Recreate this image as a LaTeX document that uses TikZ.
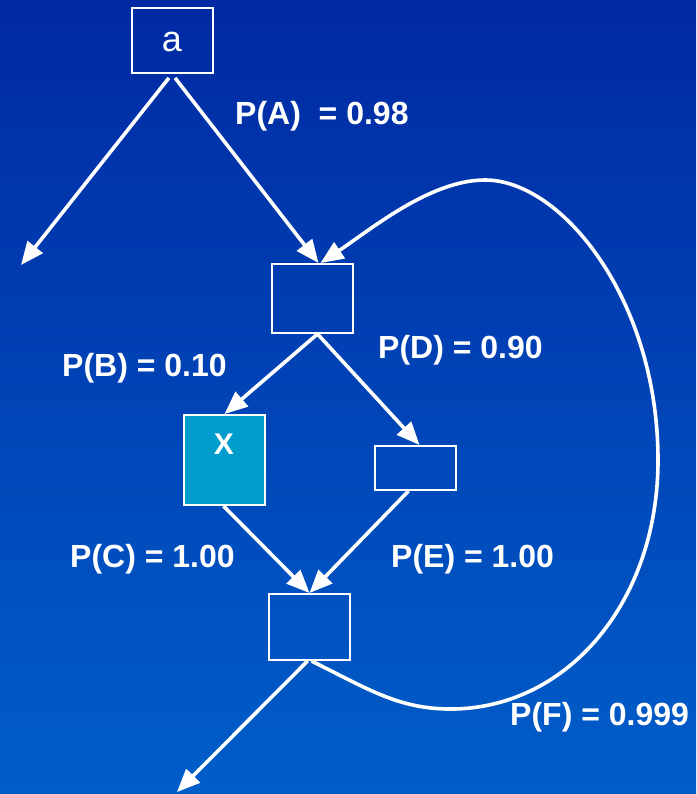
\documentclass[tikz,border=0pt]{standalone}
\usepackage{fontspec}
\setmainfont{Liberation Sans}
\usetikzlibrary{arrows.meta}
\definecolor{bgtop}{HTML}{0029A3}
\definecolor{bgbot}{HTML}{005EC9}
\definecolor{hot}{HTML}{009CCC}
\tikzset{
  box/.style={draw=white, line width=2pt, minimum width=81pt, inner sep=0pt},
  link/.style={draw=white, line width=3.6pt, -{Triangle[length=23pt,width=19pt]}},
  prob/.style={text=white, anchor=base west, inner sep=0pt,
    font=\bfseries\fontsize{32}{38}\selectfont},
}
\begin{document}
\begin{tikzpicture}[x=1pt,y=-1pt]
  % background gradient
  \shade[top color=bgtop, bottom color=bgbot] (0,0) rectangle (696,794);
  \useasboundingbox (0,0) rectangle (696,794);

  % boxes
  \node[box, minimum height=65pt] (a) at (172,40.5) {};
  \node[text=white, anchor=base, inner sep=0pt, font=\fontsize{36}{40}\selectfont] (alabel) at (172,52) {a};
  \node[box, minimum height=69pt] (b) at (312.5,298.5) {};
  \node[box, minimum height=90pt, fill=hot] (x) at (224.5,460) {};
  \node[text=white, anchor=base, inner sep=0pt, font=\bfseries\fontsize{30}{34}\selectfont] (xlabel) at (224,454) {X};
  \node[box, minimum height=44pt] (d) at (415.5,468) {};
  \node[box, minimum height=66pt] (f) at (309.5,627) {};

  % loose ends
  \coordinate (leftend) at (21,265);
  \coordinate (bottomend) at (177,792);

  % connectors
  \draw[link, shorten <=5pt] (a.south) -- (leftend);
  \draw[link, shorten <=5pt] (a.south) -- ([xshift=6pt]b.north);
  \draw[link] ([xshift=5pt]b.south) -- (x.north);
  \draw[link] ([xshift=5pt]b.south) -- ([xshift=4pt]d.north);
  \draw[link] ([xshift=-1pt]x.south) -- (f.north);
  \draw[link] ([xshift=-7pt]d.south) -- (f.north);
  \draw[link] ([xshift=-2pt]f.south) -- (bottomend);

  % feedback loop
  \draw[link] ([xshift=2pt]f.south)
    .. controls (370,690) and (400,710) .. (455,709)
    .. controls (570,706) and (658,600) .. (658,460)
    .. controls (658,300) and (562,180) .. (485,180)
    .. controls (430,180) and (370,230) .. ([xshift=8pt]b.north);

  % probabilities
  \node[prob] (pa) at (235,125) {P(A)\ \ = 0.98};
  \node[prob] (pb) at (62,376) {P(B) = 0.10};
  \node[prob] (pd) at (378,358) {P(D) = 0.90};
  \node[prob] (pc) at (70,567) {P(C) = 1.00};
  \node[prob] (pe) at (391,567) {P(E) = 1.00};
  \node[prob] (pf) at (510,725) {P(F) = 0.999};
\end{tikzpicture}
\end{document}
